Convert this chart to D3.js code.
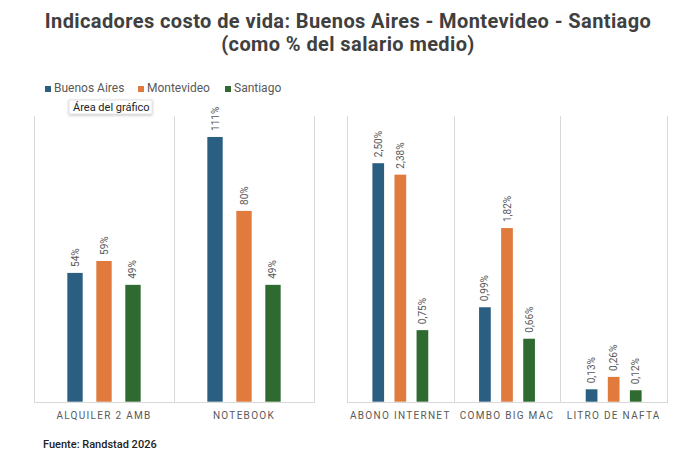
<!DOCTYPE html>
<html lang="es">
<head>
<meta charset="UTF-8">
<title>Indicadores costo de vida</title>
<script src="https://cdn.jsdelivr.net/npm/d3@7"></script>
<style>
	body { margin: 0; background: #fff; }
	svg { display: block; font-family: Roboto, "Noto Sans", sans-serif; }
	.grid { stroke: #d9d9d9; stroke-width: 1; shape-rendering: crispEdges; }
	.cat { fill: #595959; font-size: 10px; letter-spacing: 1.3px; }
	.val { fill: #595959; font-size: 10px; }
	.legend text { fill: #595959; font-size: 12px; }
</style>
</head>
<body>
<script>
	// data
	const series = ["Buenos Aires", "Montevideo", "Santiago"];
	const colors = ["#2b5f82", "#e07a3d", "#2f6b30"];

	const catsLeft = ["ALQUILER 2 AMB", "NOTEBOOK"];
	const buenosAiresLeft = [54, 111];
	const montevideoLeft = [59, 80];
	const santiagoLeft = [49, 49];

	const catsRight = ["ABONO INTERNET", "COMBO BIG MAC", "LITRO DE NAFTA"];
	const buenosAiresRight = [2.50, 0.99, 0.13];
	const montevideoRight = [2.38, 1.82, 0.26];
	const santiagoRight = [0.75, 0.66, 0.12];

	const W = 696, H = 468;
	const yTop = 115.5, yBase = 401.7;

	const svg = d3.select("body").append("svg")
		.attr("width", W)
		.attr("height", H);

	// title, two lines
	const title = svg.append("text")
		.attr("x", W / 2)
		.attr("text-anchor", "middle")
		.attr("fill", "#404040")
		.attr("font-weight", "bold")
		.attr("font-size", 20)
		.attr("letter-spacing", "0.4px");
	title.append("tspan").attr("x", W / 2).attr("y", 28)
		.text("Indicadores costo de vida: Buenos Aires - Montevideo - Santiago");
	title.append("tspan").attr("x", W / 2).attr("y", 51)
		.text("(como % del salario medio)");

	// legend
	const legendX = [45, 138, 225];
	const legend = svg.append("g").attr("class", "legend");
	series.forEach(function (s, i) {
		const g = legend.append("g").attr("transform", "translate(" + legendX[i] + ",86)");
		g.append("rect").attr("width", 6).attr("height", 6).attr("fill", colors[i]);
		g.append("text").attr("x", 9).attr("y", 6.3).text(s);
	});

	function drawPanel(cats, values, x0, x1, yMax, fmt) {
		const x = d3.scaleBand().domain(cats).range([x0, x1]);
		const sub = d3.scaleBand().domain(series).range([0, x.bandwidth()])
			.paddingInner(0.47).paddingOuter(1.15);
		const y = d3.scaleLinear().domain([0, yMax]).range([yBase, yTop]);

		const g = svg.append("g");

		// separators and baseline
		const edges = cats.map(function (c) { return x(c); }).concat([x1]);
		g.selectAll(".vline").data(edges).enter().append("line")
			.attr("class", "grid")
			.attr("x1", function (d) { return Math.round(d) + 0.5; })
			.attr("x2", function (d) { return Math.round(d) + 0.5; })
			.attr("y1", yTop).attr("y2", yBase);
		g.append("line").attr("class", "grid")
			.attr("x1", x0).attr("x2", x1 + 1)
			.attr("y1", Math.round(yBase) + 0.5).attr("y2", Math.round(yBase) + 0.5);

		const groups = g.selectAll(".cat-g").data(cats).enter().append("g")
			.attr("transform", function (c) { return "translate(" + x(c) + ",0)"; });

		function rows(c, ci) {
			return series.map(function (s, si) { return { s: s, si: si, v: values[si][ci] }; });
		}

		groups.selectAll("rect")
			.data(rows)
			.enter().append("rect")
			.attr("x", function (d) { return sub(d.s); })
			.attr("width", sub.bandwidth())
			.attr("y", function (d) { return y(d.v); })
			.attr("height", function (d) { return yBase - y(d.v); })
			.attr("fill", function (d) { return colors[d.si]; });

		groups.selectAll(".val")
			.data(rows)
			.enter().append("text")
			.attr("class", "val")
			.attr("transform", function (d) {
				return "translate(" + (sub(d.s) + sub.bandwidth() / 2) + "," + (y(d.v) - 6) + ") rotate(-90)";
			})
			.attr("dy", "0.35em")
			.text(function (d) { return fmt(d.v); });

		// category labels
		g.selectAll(".cat").data(cats).enter().append("text")
			.attr("class", "cat")
			.attr("x", function (c) { return x(c) + x.bandwidth() / 2; })
			.attr("y", 418.5)
			.attr("text-anchor", "middle")
			.text(function (c) { return c; });
	}

	drawPanel(catsLeft, [buenosAiresLeft, montevideoLeft, santiagoLeft], 34, 314, 120,
		function (v) { return v + "%"; });
	drawPanel(catsRight, [buenosAiresRight, montevideoRight, santiagoRight], 347, 667, 3,
		function (v) { return v.toFixed(2).replace(".", ",") + "%"; });

	// tooltip left in the screenshot
	const defs = svg.append("defs");
	const f = defs.append("filter").attr("id", "shadow").attr("x", "-20%").attr("y", "-40%")
		.attr("width", "140%").attr("height", "200%");
	f.append("feDropShadow").attr("dx", 0).attr("dy", 1).attr("stdDeviation", 1.5)
		.attr("flood-color", "#000").attr("flood-opacity", 0.25);
	const tip = svg.append("g").attr("transform", "translate(69,100)");
	tip.append("rect").attr("width", 83).attr("height", 14)
		.attr("fill", "#fff").attr("stroke", "#c8c8c8").attr("stroke-width", 0.5)
		.attr("filter", "url(#shadow)");
	tip.append("text").attr("x", 4).attr("y", 10.5)
		.attr("font-size", 11).attr("fill", "#222").text("Área del gráfico");

	// source
	svg.append("text")
		.attr("x", 43).attr("y", 447.5)
		.attr("font-size", 11).attr("font-weight", 500).attr("fill", "#222")
		.text("Fuente: Randstad 2026");
</script>
</body>
</html>
